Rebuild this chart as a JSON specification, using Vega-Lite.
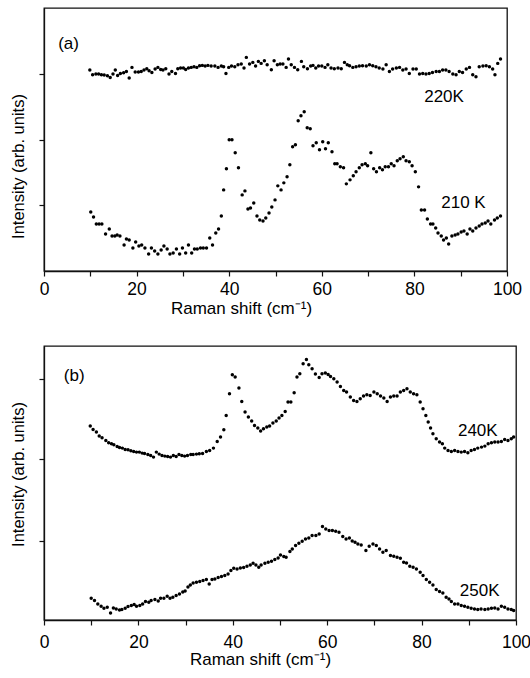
{
 "$schema": "https://vega.github.io/schema/vega-lite/v6.json",
 "padding": {"left": 9, "top": 7, "right": 5, "bottom": 0},
 "background": "white",
 "spacing": 27,
 "config": {
  "view": {"stroke": "#111", "strokeWidth": 1.3},
  "font": "Liberation Sans",
  "axis": {"domainColor": "#111", "tickColor": "#111", "grid": false, "labelColor": "#000", "titleColor": "#000", "labelFont": "Liberation Sans", "titleFont": "Liberation Sans", "titleFontWeight": "normal", "domainWidth": 1.3, "tickWidth": 1.2, "tickSize": 5}
 },
 "datasets": {
  "a": [
   {"s":"210K","x":10.1,"y":59},{"s":"210K","x":10.7,"y":54},{"s":"210K","x":11.3,"y":47},{"s":"210K","x":11.9,"y":47},{"s":"210K","x":12.5,"y":47},{"s":"210K","x":13.3,"y":37},{"s":"210K","x":14.1,"y":42},{"s":"210K","x":14.7,"y":35},{"s":"210K","x":15.3,"y":35},{"s":"210K","x":15.8,"y":36},{"s":"210K","x":16.4,"y":35},{"s":"210K","x":17.3,"y":26},{"s":"210K","x":17.8,"y":32},{"s":"210K","x":18.4,"y":31},{"s":"210K","x":19.2,"y":23},{"s":"210K","x":19.8,"y":29},{"s":"210K","x":20.5,"y":25},{"s":"210K","x":21.1,"y":26},{"s":"210K","x":21.8,"y":23},{"s":"210K","x":22.6,"y":17},{"s":"210K","x":23.2,"y":23},{"s":"210K","x":23.9,"y":20},{"s":"210K","x":24.6,"y":17},{"s":"210K","x":25.3,"y":21},{"s":"210K","x":25.9,"y":25},{"s":"210K","x":26.6,"y":22},{"s":"210K","x":27.2,"y":17},{"s":"210K","x":27.9,"y":18},{"s":"210K","x":28.6,"y":22},{"s":"210K","x":29.3,"y":17},{"s":"210K","x":29.9,"y":23},{"s":"210K","x":30.6,"y":18},{"s":"210K","x":31.2,"y":26},{"s":"210K","x":31.9,"y":18},{"s":"210K","x":32.5,"y":22},{"s":"210K","x":33.1,"y":22},{"s":"210K","x":33.8,"y":23},{"s":"210K","x":34.4,"y":23},{"s":"210K","x":35.1,"y":23},{"s":"210K","x":35.8,"y":33},{"s":"210K","x":36.4,"y":26},{"s":"210K","x":37.1,"y":38},{"s":"210K","x":37.7,"y":42},{"s":"210K","x":38.3,"y":55},{"s":"210K","x":38.8,"y":81},{"s":"210K","x":39.4,"y":102},{"s":"210K","x":40.0,"y":131},{"s":"210K","x":40.6,"y":131},{"s":"210K","x":41.3,"y":118},{"s":"210K","x":42.0,"y":103},{"s":"210K","x":42.8,"y":76},{"s":"210K","x":43.4,"y":80},{"s":"210K","x":44.05,"y":62},{"s":"210K","x":44.6,"y":63},{"s":"210K","x":45.3,"y":68},{"s":"210K","x":46.0,"y":55},{"s":"210K","x":46.6,"y":51},{"s":"210K","x":47.3,"y":50},{"s":"210K","x":47.9,"y":53},{"s":"210K","x":48.6,"y":58},{"s":"210K","x":49.2,"y":64},{"s":"210K","x":49.9,"y":71},{"s":"210K","x":50.5,"y":85},{"s":"210K","x":51.2,"y":81},{"s":"210K","x":51.8,"y":88},{"s":"210K","x":52.5,"y":94},{"s":"210K","x":53.1,"y":106},{"s":"210K","x":53.7,"y":124},{"s":"210K","x":54.3,"y":126},{"s":"210K","x":54.9,"y":150},{"s":"210K","x":55.5,"y":155},{"s":"210K","x":56.2,"y":159},{"s":"210K","x":56.85,"y":143},{"s":"210K","x":57.5,"y":142},{"s":"210K","x":58.1,"y":125},{"s":"210K","x":58.8,"y":128},{"s":"210K","x":59.5,"y":121},{"s":"210K","x":60.2,"y":129},{"s":"210K","x":60.8,"y":122},{"s":"210K","x":61.4,"y":128},{"s":"210K","x":62.2,"y":119},{"s":"210K","x":62.8,"y":107},{"s":"210K","x":63.3,"y":107},{"s":"210K","x":64.0,"y":104},{"s":"210K","x":64.7,"y":103},{"s":"210K","x":65.3,"y":87},{"s":"210K","x":66.1,"y":91},{"s":"210K","x":66.8,"y":95},{"s":"210K","x":67.4,"y":99},{"s":"210K","x":68.1,"y":103},{"s":"210K","x":68.7,"y":106},{"s":"210K","x":69.4,"y":107},{"s":"210K","x":69.9,"y":105},{"s":"210K","x":70.6,"y":118},{"s":"210K","x":71.2,"y":102},{"s":"210K","x":71.8,"y":99},{"s":"210K","x":72.5,"y":103},{"s":"210K","x":73.1,"y":101},{"s":"210K","x":73.7,"y":104},{"s":"210K","x":74.4,"y":104},{"s":"210K","x":75.0,"y":107},{"s":"210K","x":75.6,"y":105},{"s":"210K","x":76.3,"y":110},{"s":"210K","x":76.9,"y":112},{"s":"210K","x":77.6,"y":114},{"s":"210K","x":78.2,"y":110},{"s":"210K","x":78.9,"y":109},{"s":"210K","x":79.5,"y":105},{"s":"210K","x":80.2,"y":99},{"s":"210K","x":80.9,"y":84},{"s":"210K","x":81.5,"y":61},{"s":"210K","x":82.2,"y":61},{"s":"210K","x":82.8,"y":52},{"s":"210K","x":83.5,"y":47},{"s":"210K","x":84.0,"y":47},{"s":"210K","x":84.6,"y":43},{"s":"210K","x":85.1,"y":38},{"s":"210K","x":85.8,"y":35},{"s":"210K","x":86.3,"y":31},{"s":"210K","x":86.9,"y":33},{"s":"210K","x":87.4,"y":27},{"s":"210K","x":88.1,"y":35},{"s":"210K","x":88.8,"y":36},{"s":"210K","x":89.4,"y":37},{"s":"210K","x":90.1,"y":39},{"s":"210K","x":90.7,"y":40},{"s":"210K","x":91.4,"y":37},{"s":"210K","x":92.0,"y":42},{"s":"210K","x":92.6,"y":40},{"s":"210K","x":93.3,"y":43},{"s":"210K","x":94.0,"y":45},{"s":"210K","x":94.6,"y":47},{"s":"210K","x":95.3,"y":48},{"s":"210K","x":95.9,"y":50},{"s":"210K","x":96.5,"y":47},{"s":"210K","x":97.3,"y":51},{"s":"210K","x":97.9,"y":53},{"s":"210K","x":98.6,"y":55},
   {"s":"220K","x":9.9,"y":200.7},{"s":"220K","x":10.5,"y":196},{"s":"220K","x":11.2,"y":196.7},{"s":"220K","x":11.8,"y":196.7},{"s":"220K","x":12.4,"y":196},{"s":"220K","x":13.0,"y":195.7},{"s":"220K","x":13.7,"y":195},{"s":"220K","x":14.3,"y":193.3},{"s":"220K","x":14.9,"y":196.7},{"s":"220K","x":15.4,"y":200.7},{"s":"220K","x":15.9,"y":195.3},{"s":"220K","x":16.5,"y":197.3},{"s":"220K","x":17.2,"y":198},{"s":"220K","x":17.8,"y":199.3},{"s":"220K","x":18.4,"y":192.7},{"s":"220K","x":19.0,"y":203.3},{"s":"220K","x":19.7,"y":198.7},{"s":"220K","x":20.4,"y":198.7},{"s":"220K","x":21.0,"y":199.3},{"s":"220K","x":21.6,"y":200.7},{"s":"220K","x":22.2,"y":202},{"s":"220K","x":22.7,"y":200},{"s":"220K","x":23.3,"y":198.3},{"s":"220K","x":24.0,"y":201.7},{"s":"220K","x":24.6,"y":203.3},{"s":"220K","x":25.2,"y":201.3},{"s":"220K","x":25.7,"y":200.7},{"s":"220K","x":26.3,"y":202},{"s":"220K","x":27.0,"y":196.7},{"s":"220K","x":27.6,"y":199.3},{"s":"220K","x":28.4,"y":197.3},{"s":"220K","x":28.9,"y":202},{"s":"220K","x":29.5,"y":202.7},{"s":"220K","x":30.1,"y":202.7},{"s":"220K","x":30.6,"y":201.3},{"s":"220K","x":31.2,"y":202.7},{"s":"220K","x":31.8,"y":203.3},{"s":"220K","x":32.4,"y":204},{"s":"220K","x":33.0,"y":203.3},{"s":"220K","x":33.6,"y":205},{"s":"220K","x":34.2,"y":205.3},{"s":"220K","x":34.8,"y":204.7},{"s":"220K","x":35.4,"y":205.3},{"s":"220K","x":36.1,"y":204.7},{"s":"220K","x":36.9,"y":204.7},{"s":"220K","x":37.6,"y":203.3},{"s":"220K","x":38.3,"y":204.7},{"s":"220K","x":38.8,"y":204},{"s":"220K","x":39.3,"y":197.3},{"s":"220K","x":39.9,"y":203.3},{"s":"220K","x":40.5,"y":204.7},{"s":"220K","x":41.2,"y":204},{"s":"220K","x":41.9,"y":206},{"s":"220K","x":42.6,"y":206.7},{"s":"220K","x":43.2,"y":202.7},{"s":"220K","x":43.7,"y":213.3},{"s":"220K","x":44.4,"y":206.7},{"s":"220K","x":45.1,"y":208.3},{"s":"220K","x":45.7,"y":204.7},{"s":"220K","x":46.3,"y":209.3},{"s":"220K","x":46.9,"y":207.3},{"s":"220K","x":47.6,"y":210},{"s":"220K","x":48.2,"y":206},{"s":"220K","x":49.1,"y":201},{"s":"220K","x":49.7,"y":210},{"s":"220K","x":50.4,"y":206},{"s":"220K","x":51.0,"y":206.7},{"s":"220K","x":51.6,"y":206.7},{"s":"220K","x":52.3,"y":203.3},{"s":"220K","x":52.8,"y":211.7},{"s":"220K","x":53.4,"y":206},{"s":"220K","x":54.1,"y":203.3},{"s":"220K","x":54.8,"y":201},{"s":"220K","x":55.6,"y":209.3},{"s":"220K","x":56.1,"y":204},{"s":"220K","x":56.9,"y":202},{"s":"220K","x":57.6,"y":204.7},{"s":"220K","x":58.1,"y":205.3},{"s":"220K","x":58.7,"y":202.7},{"s":"220K","x":59.3,"y":204.7},{"s":"220K","x":60.0,"y":204.7},{"s":"220K","x":60.7,"y":203.3},{"s":"220K","x":61.3,"y":206},{"s":"220K","x":62.0,"y":202.7},{"s":"220K","x":62.7,"y":202},{"s":"220K","x":63.5,"y":202.7},{"s":"220K","x":64.2,"y":202},{"s":"220K","x":64.9,"y":208.3},{"s":"220K","x":65.5,"y":206},{"s":"220K","x":66.0,"y":205},{"s":"220K","x":66.7,"y":203.3},{"s":"220K","x":67.4,"y":204},{"s":"220K","x":68.1,"y":204.7},{"s":"220K","x":68.8,"y":205},{"s":"220K","x":69.6,"y":204.7},{"s":"220K","x":70.3,"y":206},{"s":"220K","x":71.0,"y":205},{"s":"220K","x":71.7,"y":204},{"s":"220K","x":72.4,"y":202.7},{"s":"220K","x":73.2,"y":201.7},{"s":"220K","x":73.9,"y":206},{"s":"220K","x":74.6,"y":199.3},{"s":"220K","x":75.3,"y":201.7},{"s":"220K","x":76.1,"y":202.7},{"s":"220K","x":76.8,"y":203.3},{"s":"220K","x":77.5,"y":200.7},{"s":"220K","x":78.2,"y":201.7},{"s":"220K","x":78.9,"y":197.3},{"s":"220K","x":79.7,"y":201.7},{"s":"220K","x":80.4,"y":201.7},{"s":"220K","x":81.1,"y":196.7},{"s":"220K","x":81.8,"y":197.3},{"s":"220K","x":82.5,"y":196.7},{"s":"220K","x":83.2,"y":197.3},{"s":"220K","x":83.9,"y":198.3},{"s":"220K","x":84.7,"y":199.3},{"s":"220K","x":85.4,"y":199.3},{"s":"220K","x":86.1,"y":200.7},{"s":"220K","x":86.8,"y":200.7},{"s":"220K","x":87.5,"y":199.3},{"s":"220K","x":88.3,"y":196.7},{"s":"220K","x":89.0,"y":196},{"s":"220K","x":89.7,"y":199.3},{"s":"220K","x":90.4,"y":198.3},{"s":"220K","x":91.2,"y":201.7},{"s":"220K","x":91.9,"y":203.3},{"s":"220K","x":92.6,"y":196},{"s":"220K","x":93.3,"y":194},{"s":"220K","x":94.0,"y":204},{"s":"220K","x":94.8,"y":204.7},{"s":"220K","x":95.5,"y":205},{"s":"220K","x":96.2,"y":204},{"s":"220K","x":96.9,"y":201.7},{"s":"220K","x":97.4,"y":196},{"s":"220K","x":98.0,"y":207.3},{"s":"220K","x":98.6,"y":211.7}
  ],
  "b": [
   {"s":"240K","x":9.8,"y":193.7},{"s":"240K","x":10.4,"y":190.3},{"s":"240K","x":11.1,"y":187.7},{"s":"240K","x":11.7,"y":183.7},{"s":"240K","x":12.3,"y":182},{"s":"240K","x":13.1,"y":179.3},{"s":"240K","x":13.7,"y":177},{"s":"240K","x":14.3,"y":176},{"s":"240K","x":14.8,"y":175},{"s":"240K","x":15.5,"y":173.3},{"s":"240K","x":16.0,"y":172.3},{"s":"240K","x":16.6,"y":171.7},{"s":"240K","x":17.2,"y":170.3},{"s":"240K","x":17.8,"y":170},{"s":"240K","x":18.4,"y":169},{"s":"240K","x":19.0,"y":168.3},{"s":"240K","x":19.6,"y":167.7},{"s":"240K","x":20.2,"y":167.7},{"s":"240K","x":20.8,"y":166.7},{"s":"240K","x":21.3,"y":166.3},{"s":"240K","x":22.0,"y":165.3},{"s":"240K","x":22.6,"y":164.3},{"s":"240K","x":23.2,"y":162.7},{"s":"240K","x":23.8,"y":167.7},{"s":"240K","x":24.4,"y":165.7},{"s":"240K","x":25.0,"y":164.3},{"s":"240K","x":25.6,"y":163.7},{"s":"240K","x":26.2,"y":163.3},{"s":"240K","x":26.8,"y":162.7},{"s":"240K","x":27.4,"y":164.3},{"s":"240K","x":28.0,"y":163.3},{"s":"240K","x":28.6,"y":165.3},{"s":"240K","x":29.2,"y":164.3},{"s":"240K","x":29.8,"y":163.7},{"s":"240K","x":30.4,"y":164.3},{"s":"240K","x":31.1,"y":165.3},{"s":"240K","x":31.6,"y":165.3},{"s":"240K","x":32.3,"y":165.7},{"s":"240K","x":32.9,"y":166},{"s":"240K","x":33.6,"y":166.3},{"s":"240K","x":34.4,"y":168.3},{"s":"240K","x":35.1,"y":169.3},{"s":"240K","x":35.9,"y":171.7},{"s":"240K","x":36.7,"y":178.3},{"s":"240K","x":37.4,"y":182.7},{"s":"240K","x":38.1,"y":190},{"s":"240K","x":38.6,"y":204.3},{"s":"240K","x":39.3,"y":226},{"s":"240K","x":39.9,"y":245},{"s":"240K","x":40.5,"y":242.7},{"s":"240K","x":41.3,"y":231.7},{"s":"240K","x":41.9,"y":218.3},{"s":"240K","x":42.6,"y":207.7},{"s":"240K","x":43.3,"y":202.7},{"s":"240K","x":44.0,"y":198.7},{"s":"240K","x":44.6,"y":194.3},{"s":"240K","x":45.3,"y":191.7},{"s":"240K","x":45.9,"y":188.7},{"s":"240K","x":46.5,"y":191},{"s":"240K","x":47.2,"y":192.7},{"s":"240K","x":47.8,"y":193.7},{"s":"240K","x":48.5,"y":196.7},{"s":"240K","x":49.2,"y":198.7},{"s":"240K","x":49.8,"y":201.7},{"s":"240K","x":50.4,"y":204.3},{"s":"240K","x":51.1,"y":208.3},{"s":"240K","x":51.7,"y":217.7},{"s":"240K","x":52.3,"y":217.7},{"s":"240K","x":53.0,"y":227},{"s":"240K","x":53.6,"y":242.7},{"s":"240K","x":54.2,"y":246},{"s":"240K","x":54.9,"y":256},{"s":"240K","x":55.6,"y":260.3},{"s":"240K","x":56.1,"y":255},{"s":"240K","x":56.8,"y":251},{"s":"240K","x":57.5,"y":245.7},{"s":"240K","x":58.3,"y":242.3},{"s":"240K","x":58.9,"y":246},{"s":"240K","x":59.6,"y":246.7},{"s":"240K","x":60.2,"y":245.3},{"s":"240K","x":60.7,"y":243.3},{"s":"240K","x":61.4,"y":241},{"s":"240K","x":62.1,"y":237.7},{"s":"240K","x":62.8,"y":233.3},{"s":"240K","x":63.5,"y":229.3},{"s":"240K","x":64.1,"y":227.7},{"s":"240K","x":64.9,"y":222.7},{"s":"240K","x":65.6,"y":219.3},{"s":"240K","x":66.3,"y":218.3},{"s":"240K","x":67.0,"y":221},{"s":"240K","x":67.7,"y":223.7},{"s":"240K","x":68.4,"y":225},{"s":"240K","x":69.1,"y":224.3},{"s":"240K","x":69.9,"y":227.7},{"s":"240K","x":70.6,"y":226},{"s":"240K","x":71.3,"y":223.7},{"s":"240K","x":72.0,"y":221.7},{"s":"240K","x":72.7,"y":218.3},{"s":"240K","x":73.4,"y":222.7},{"s":"240K","x":74.1,"y":223.7},{"s":"240K","x":74.8,"y":223.7},{"s":"240K","x":75.5,"y":227.7},{"s":"240K","x":76.2,"y":229.3},{"s":"240K","x":76.9,"y":231},{"s":"240K","x":77.6,"y":227.7},{"s":"240K","x":78.3,"y":226},{"s":"240K","x":79.0,"y":225},{"s":"240K","x":79.7,"y":217.7},{"s":"240K","x":80.3,"y":211},{"s":"240K","x":80.9,"y":204.3},{"s":"240K","x":81.4,"y":197.7},{"s":"240K","x":81.9,"y":191.7},{"s":"240K","x":82.4,"y":186},{"s":"240K","x":83.1,"y":181},{"s":"240K","x":83.8,"y":177.7},{"s":"240K","x":84.4,"y":176},{"s":"240K","x":84.9,"y":171.7},{"s":"240K","x":85.6,"y":169.3},{"s":"240K","x":86.3,"y":168.3},{"s":"240K","x":87.0,"y":169.3},{"s":"240K","x":87.7,"y":168.3},{"s":"240K","x":88.4,"y":167.7},{"s":"240K","x":89.1,"y":168.3},{"s":"240K","x":89.8,"y":167},{"s":"240K","x":90.5,"y":169.3},{"s":"240K","x":91.2,"y":170.3},{"s":"240K","x":91.9,"y":171.7},{"s":"240K","x":92.7,"y":172.7},{"s":"240K","x":93.4,"y":173.7},{"s":"240K","x":94.1,"y":176},{"s":"240K","x":94.8,"y":177},{"s":"240K","x":95.5,"y":177.7},{"s":"240K","x":96.2,"y":177.7},{"s":"240K","x":96.9,"y":178.3},{"s":"240K","x":97.6,"y":180.3},{"s":"240K","x":98.3,"y":179.3},{"s":"240K","x":99.0,"y":181},{"s":"240K","x":99.5,"y":182.7},
   {"s":"250K","x":10.0,"y":21.7},{"s":"250K","x":10.7,"y":19.4},{"s":"250K","x":11.4,"y":16},{"s":"250K","x":12.1,"y":13.7},{"s":"250K","x":12.7,"y":11.7},{"s":"250K","x":13.4,"y":12.7},{"s":"250K","x":14.1,"y":7},{"s":"250K","x":14.7,"y":12},{"s":"250K","x":15.3,"y":11},{"s":"250K","x":16.0,"y":10},{"s":"250K","x":16.5,"y":10.4},{"s":"250K","x":17.2,"y":11.7},{"s":"250K","x":17.8,"y":13.4},{"s":"250K","x":18.5,"y":14.4},{"s":"250K","x":19.1,"y":15.4},{"s":"250K","x":19.6,"y":13.7},{"s":"250K","x":20.3,"y":14.4},{"s":"250K","x":20.9,"y":16},{"s":"250K","x":21.5,"y":18.4},{"s":"250K","x":22.2,"y":17.7},{"s":"250K","x":22.7,"y":19.4},{"s":"250K","x":23.5,"y":20.4},{"s":"250K","x":24.2,"y":19},{"s":"250K","x":24.7,"y":21.7},{"s":"250K","x":25.4,"y":21.7},{"s":"250K","x":26.1,"y":23.7},{"s":"250K","x":26.7,"y":21.7},{"s":"250K","x":27.3,"y":22.7},{"s":"250K","x":28.0,"y":24.4},{"s":"250K","x":28.7,"y":26},{"s":"250K","x":29.4,"y":28},{"s":"250K","x":29.9,"y":29},{"s":"250K","x":30.5,"y":33},{"s":"250K","x":31.0,"y":35},{"s":"250K","x":31.6,"y":37},{"s":"250K","x":32.3,"y":37.7},{"s":"250K","x":33.0,"y":38.4},{"s":"250K","x":33.7,"y":39.4},{"s":"250K","x":34.4,"y":40.4},{"s":"250K","x":35.0,"y":36},{"s":"250K","x":35.6,"y":40.4},{"s":"250K","x":36.2,"y":41},{"s":"250K","x":36.9,"y":42.4},{"s":"250K","x":37.6,"y":43.4},{"s":"250K","x":38.3,"y":44.4},{"s":"250K","x":39.0,"y":46},{"s":"250K","x":39.6,"y":49.4},{"s":"250K","x":40.2,"y":51.7},{"s":"250K","x":40.9,"y":51},{"s":"250K","x":41.6,"y":52},{"s":"250K","x":42.3,"y":52.4},{"s":"250K","x":43.0,"y":53.7},{"s":"250K","x":43.7,"y":55},{"s":"250K","x":44.3,"y":56.7},{"s":"250K","x":44.9,"y":55},{"s":"250K","x":45.5,"y":52.7},{"s":"250K","x":46.0,"y":55},{"s":"250K","x":46.8,"y":56.7},{"s":"250K","x":47.5,"y":57.7},{"s":"250K","x":48.2,"y":58.7},{"s":"250K","x":48.9,"y":60.4},{"s":"250K","x":49.6,"y":62},{"s":"250K","x":50.1,"y":65},{"s":"250K","x":50.8,"y":63.4},{"s":"250K","x":51.3,"y":62.7},{"s":"250K","x":52.1,"y":68.4},{"s":"250K","x":52.6,"y":71},{"s":"250K","x":53.3,"y":74.4},{"s":"250K","x":54.0,"y":76.7},{"s":"250K","x":54.7,"y":78.7},{"s":"250K","x":55.4,"y":81},{"s":"250K","x":56.1,"y":82},{"s":"250K","x":56.8,"y":84.4},{"s":"250K","x":57.6,"y":84.4},{"s":"250K","x":58.3,"y":86},{"s":"250K","x":59.0,"y":93.4},{"s":"250K","x":59.7,"y":91},{"s":"250K","x":60.4,"y":89.4},{"s":"250K","x":61.1,"y":89.4},{"s":"250K","x":61.8,"y":88.7},{"s":"250K","x":62.5,"y":87.7},{"s":"250K","x":63.3,"y":83.4},{"s":"250K","x":64.0,"y":81},{"s":"250K","x":64.7,"y":82},{"s":"250K","x":65.3,"y":79},{"s":"250K","x":65.9,"y":77.7},{"s":"250K","x":66.5,"y":76},{"s":"250K","x":67.2,"y":75},{"s":"250K","x":68.2,"y":69.4},{"s":"250K","x":68.9,"y":73.7},{"s":"250K","x":69.7,"y":76},{"s":"250K","x":70.4,"y":74.4},{"s":"250K","x":71.1,"y":71},{"s":"250K","x":71.8,"y":67.7},{"s":"250K","x":72.5,"y":69.4},{"s":"250K","x":73.4,"y":64.4},{"s":"250K","x":74.1,"y":63.7},{"s":"250K","x":74.8,"y":62.7},{"s":"250K","x":75.5,"y":61.7},{"s":"250K","x":76.2,"y":57.7},{"s":"250K","x":76.8,"y":57},{"s":"250K","x":77.5,"y":53.7},{"s":"250K","x":78.2,"y":52.7},{"s":"250K","x":78.9,"y":51},{"s":"250K","x":79.7,"y":47.7},{"s":"250K","x":80.3,"y":44.4},{"s":"250K","x":81.0,"y":40.4},{"s":"250K","x":81.7,"y":37.7},{"s":"250K","x":82.4,"y":35},{"s":"250K","x":83.1,"y":30.4},{"s":"250K","x":83.8,"y":28.4},{"s":"250K","x":84.5,"y":27},{"s":"250K","x":85.2,"y":22.7},{"s":"250K","x":85.8,"y":21},{"s":"250K","x":86.3,"y":18.4},{"s":"250K","x":87.0,"y":16},{"s":"250K","x":87.7,"y":16},{"s":"250K","x":88.4,"y":14.4},{"s":"250K","x":89.1,"y":13.7},{"s":"250K","x":89.8,"y":12.7},{"s":"250K","x":90.5,"y":11.7},{"s":"250K","x":91.2,"y":11},{"s":"250K","x":91.9,"y":10.4},{"s":"250K","x":92.6,"y":11},{"s":"250K","x":93.4,"y":10.4},{"s":"250K","x":94.1,"y":11},{"s":"250K","x":94.8,"y":11.7},{"s":"250K","x":95.5,"y":12},{"s":"250K","x":96.2,"y":11},{"s":"250K","x":96.9,"y":13.7},{"s":"250K","x":97.6,"y":12.7},{"s":"250K","x":98.3,"y":11},{"s":"250K","x":99.0,"y":10.4},{"s":"250K","x":99.5,"y":9.4}
  ],
  "la": [
   {"t":"(a)","x":5.3,"y":227},{"t":"220K","x":86.4,"y":174},{"t":"210 K","x":90.6,"y":68}
  ],
  "lb": [
   {"t":"(b)","x":6.4,"y":243.7},{"t":"240K","x":91.9,"y":188.7},{"t":"250K","x":92.3,"y":28.7}
  ]
 },
 "vconcat": [
  {
   "width": 463,
   "height": 263,
   "encoding": {
    "x": {"field": "x", "type": "quantitative", "scale": {"domain": [0, 100], "nice": false, "zero": false},
          "axis": {"title": "Raman shift (cm⁻¹)", "values": [0,10,20,30,40,50,60,70,80,90,100], "labelExpr": "datum.value % 20 === 0 ? datum.label : ''", "labelFontSize": 17.5, "labelPadding": 4, "titleFontSize": 17, "titlePadding": 3, "titleX": 197, "labelFlush": false, "labelOverlap": false}},
    "y": {"field": "y", "type": "quantitative", "scale": {"domain": [0, 262.6], "nice": false, "zero": false},
          "axis": {"title": "Intensity (arb. units)", "values": [65.7, 131, 196.7], "labels": false, "titleFontSize": 16.5, "titlePadding": 12, "titleY": 158}}
   },
   "layer": [
    {"data": {"name": "a"}, "mark": {"type": "circle", "size": 12, "color": "#000", "opacity": 1}},
    {"data": {"name": "la"}, "mark": {"type": "text", "fontSize": 17, "color": "#000", "font": "Liberation Sans", "align": "center", "baseline": "middle"}, "encoding": {"text": {"field": "t"}}}
   ]
  },
  {
   "width": 472,
   "height": 274,
   "encoding": {
    "x": {"field": "x", "type": "quantitative", "scale": {"domain": [0, 100], "nice": false, "zero": false},
          "axis": {"title": "Raman shift (cm⁻¹)", "values": [0,10,20,30,40,50,60,70,80,90,100], "labelExpr": "datum.value % 20 === 0 ? datum.label : ''", "labelFontSize": 17.5, "labelPadding": 8, "titleFontSize": 17, "titlePadding": 1, "titleX": 216, "labelFlush": false, "labelOverlap": false}},
    "y": {"field": "y", "type": "quantitative", "scale": {"domain": [0, 273.7], "nice": false, "zero": false},
          "axis": {"title": "Intensity (arb. units)", "values": [79.4, 161, 241], "labels": false, "titleFontSize": 16.5, "titlePadding": 12, "titleY": 128}}
   },
   "layer": [
    {"data": {"name": "b"}, "mark": {"type": "circle", "size": 12, "color": "#000", "opacity": 1}},
    {"data": {"name": "lb"}, "mark": {"type": "text", "fontSize": 17, "color": "#000", "font": "Liberation Sans", "align": "center", "baseline": "middle"}, "encoding": {"text": {"field": "t"}}}
   ]
  }
 ]
}
